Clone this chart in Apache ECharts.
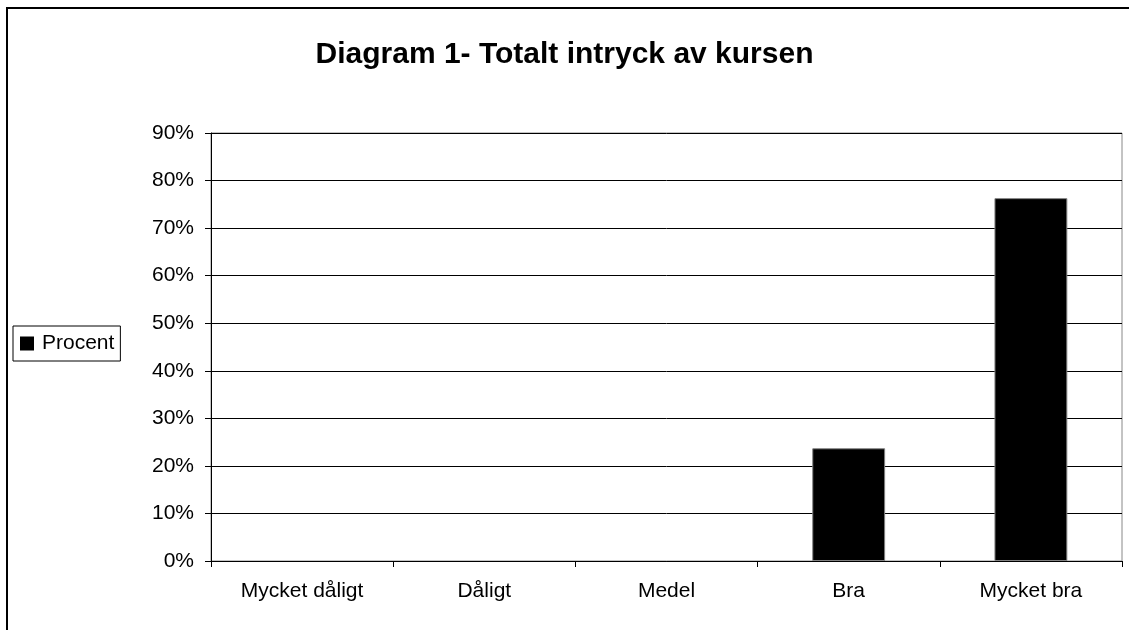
<!DOCTYPE html>
<html lang="sv">
<head>
  <meta charset="UTF-8">
  <title>Diagram 1</title>
  <style>
    body {
      margin: 0;
      padding: 0;
      background: #fff;
    }
  </style>
</head>
<body>
  <div id="main" style="width: 1129px; height: 630px;"></div>
</body>
</html>
<script src="https://cdnjs.cloudflare.com/ajax/libs/echarts/6.0.0/echarts.min.js"></script>
<script>

var categories = ['Mycket dåligt', 'Dåligt', 'Medel', 'Bra', 'Mycket bra']
var procent = [0, 0, 0, 23.7, 76.3]
var seriesName = 'Procent'
var titleText = 'Diagram 1- Totalt intryck av kursen'

var chart = echarts.init(document.getElementById('main'))

var font = 'Liberation Sans, Arial, sans-serif'

// zero bars get no border, like the original (nothing drawn)
var barData = procent.map(function(v) {
  return v === 0 ? { value: v, itemStyle: { borderWidth: 0 } } : v
})

var option = {
  animation: false,
  backgroundColor: '#fff',
  textStyle: { fontFamily: font },
  title: {
    text: titleText,
    left: 'center',
    top: 35,
    textStyle: {
      fontFamily: font,
      fontSize: 30,
      fontWeight: 'bold',
      color: '#000'
    }
  },
  // outer chart frame (right/bottom run off the picture)
  graphic: [
    {
      type: 'rect',
      shape: { x: 7, y: 8, width: 1200, height: 700 },
      style: { fill: 'none', stroke: '#000', lineWidth: 2 },
      z: 100
    }
  ],
  legend: {
    left: 13,
    top: 326,
    orient: 'vertical',
    icon: 'rect',
    itemWidth: 14,
    itemHeight: 14,
    itemGap: 4,
    padding: [7, 6, 7, 7],
    borderColor: '#000',
    borderWidth: 1,
    itemStyle: { color: '#000', borderWidth: 0 },
    textStyle: { fontFamily: font, fontSize: 21, color: '#000', padding: [0, 0, 0, 3] },
    data: [seriesName]
  },
  grid: {
    left: 211,
    right: 7,
    top: 133,
    bottom: 69,
    show: true,
    borderColor: '#888',
    borderWidth: 1
  },
  xAxis: {
    type: 'category',
    data: categories,
    boundaryGap: true,
    axisLine: { lineStyle: { color: '#000', width: 1 } },
    axisTick: { show: true, alignWithLabel: false, length: 6, lineStyle: { color: '#000' } },
    axisLabel: { fontFamily: font, fontSize: 21, color: '#000', margin: 20 }
  },
  yAxis: {
    type: 'value',
    min: 0,
    max: 90,
    interval: 10,
    axisLine: { show: true, lineStyle: { color: '#000', width: 1 } },
    axisTick: { show: true, length: 6, lineStyle: { color: '#000' } },
    axisLabel: { formatter: '{value}%', fontFamily: font, fontSize: 21, color: '#000', margin: 17 },
    splitLine: { lineStyle: { color: '#000', width: 1 } }
  },
  series: [
    {
      name: seriesName,
      type: 'bar',
      data: barData,
      barCategoryGap: '60%',
      itemStyle: { color: '#000', borderColor: '#808080', borderWidth: 1 }
    }
  ]
}

chart.setOption(option)

</script>
